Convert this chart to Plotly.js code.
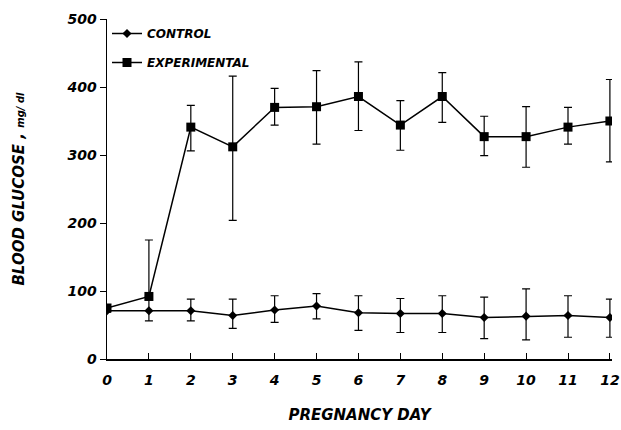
<!DOCTYPE html>
<html><head><meta charset="utf-8">
<script src="https://cdn.plot.ly/plotly-3.0.1.min.js"></script>
<style>body{margin:0;background:#fff}</style>
</head><body>
<div id="chart" style="width:621px;height:430px"></div>
<script>
const days = [0,1,2,3,4,5,6,7,8,9,10,11,12];
const controlMean = [71,71,71,64,72,78,68,67,67,61,63,64,61];
const controlUpper = [73,87,88,88,93,96,93,89,93,91,103,93,88];
const controlLower = [69,56,56,45,54,59,42,39,39,30,28,32,32];
const expMean = [75,92,341,312,370,371,386,344,386,327,327,341,350];
const expUpper = [77,175,373,416,398,424,437,380,421,357,371,370,411];
const expLower = [73,92,306,204,344,316,336,307,348,299,282,316,290];
const yTicks = [0,100,200,300,400,500];
const xTicks = days;

const up = (u,m)=>u.map((v,i)=>v-m[i]);
const dn = (l,m)=>m.map((v,i)=>v-l[i]);
const fontTick = {family:'DejaVu Sans', size:14, color:'#000', style:'italic', weight:'bold'};

const traces = [
 {x:days, y:controlMean, name:'CONTROL', legendgroup:'a', mode:'lines+markers',
  line:{color:'#000', width:1.5}, marker:{symbol:'diamond', size:7, color:'#000'},
  error_y:{type:'data', symmetric:false, array:up(controlUpper,controlMean), arrayminus:dn(controlLower,controlMean), color:'#000', thickness:1.2, width:4}},
 {x:days, y:expMean, name:'EXPERIMENTAL', legendgroup:'b', mode:'lines+markers',
  line:{color:'#000', width:1.5}, marker:{symbol:'square', size:9, color:'#000'},
  error_y:{type:'data', symmetric:false, array:up(expUpper,expMean), arrayminus:dn(expLower,expMean), color:'#000', thickness:1.2, width:4}}
];
const layout = {
 width:621, height:430, margin:{l:107, r:9, t:19, b:71},
 paper_bgcolor:'#fff', plot_bgcolor:'#fff', showlegend:true,
 legend:{x:0.0, y:1.0, xanchor:'left', yanchor:'top', bgcolor:'rgba(0,0,0,0)',
   font:{family:'DejaVu Sans', size:12, color:'#000', style:'italic', weight:'bold'}, itemwidth:30, tracegroupgap:10},
 xaxis:{range:[0,12.05], tickvals:xTicks, ticktext:xTicks.map(String), showgrid:false, zeroline:false,
   showline:true, linecolor:'#000', linewidth:1.5, ticks:'inside', ticklen:6, tickcolor:'#000',
   tickfont:fontTick, ticklabelstandoff:8,
   title:{text:'PREGNANCY DAY', font:{family:'DejaVu Sans', size:15, color:'#000', style:'italic', weight:'bold'}, standoff:22}},
 yaxis:{range:[0,500], tickvals:yTicks, ticktext:yTicks.map(String), showgrid:false, zeroline:false,
   showline:true, linecolor:'#000', linewidth:1.5, ticks:'outside', ticklen:6, tickcolor:'#000',
   tickfont:fontTick,
   title:{text:'BLOOD GLUCOSE , <span style="font-size:10px">mg/ dl</span>', font:{family:'DejaVu Sans', size:15, color:'#000', style:'italic', weight:'bold'}, standoff:38}}
};
Plotly.newPlot('chart', traces, layout, {displayModeBar:false, staticPlot:true});
</script>
</body></html>
